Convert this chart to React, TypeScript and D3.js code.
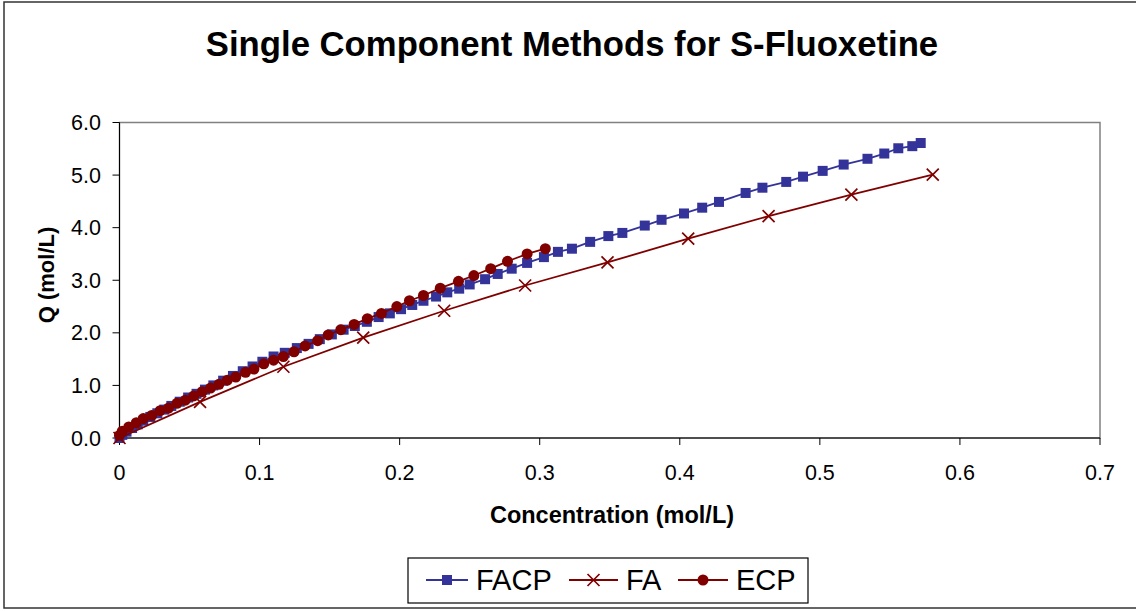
import React from "react";
import * as d3 from "d3";

const facpX = [0, 0.002, 0.005, 0.009, 0.013, 0.017, 0.022, 0.027, 0.032, 0.037, 0.043, 0.049, 0.055, 0.061, 0.067, 0.074, 0.081, 0.088, 0.095, 0.102, 0.110, 0.118, 0.1266, 0.135, 0.143, 0.1516, 0.160, 0.168, 0.1766, 0.185, 0.193, 0.201, 0.209, 0.217, 0.226, 0.234, 0.2425, 0.250, 0.261, 0.270, 0.280, 0.291, 0.303, 0.313, 0.323, 0.336, 0.349, 0.359, 0.375, 0.387, 0.403, 0.416, 0.428, 0.447, 0.459, 0.476, 0.488, 0.502, 0.517, 0.534, 0.546, 0.556, 0.566, 0.572];
const facpY = [0, 0.06, 0.12, 0.19, 0.26, 0.33, 0.40, 0.47, 0.54, 0.61, 0.69, 0.77, 0.84, 0.92, 1.00, 1.09, 1.18, 1.27, 1.36, 1.45, 1.55, 1.62, 1.71, 1.79, 1.88, 1.97, 2.06, 2.13, 2.21, 2.30, 2.37, 2.45, 2.53, 2.61, 2.69, 2.77, 2.84, 2.92, 3.02, 3.12, 3.22, 3.33, 3.44, 3.54, 3.60, 3.73, 3.84, 3.90, 4.04, 4.15, 4.27, 4.38, 4.49, 4.66, 4.76, 4.87, 4.97, 5.08, 5.20, 5.31, 5.41, 5.51, 5.55, 5.61];

const faX = [0, 0.0575, 0.117, 0.174, 0.2318, 0.2896, 0.3484, 0.406, 0.4634, 0.5225, 0.5806];
const faY = [0, 0.687, 1.355, 1.91, 2.42, 2.90, 3.34, 3.79, 4.22, 4.63, 5.01];

const ecpX = [0, 0.002, 0.0066, 0.012, 0.017, 0.023, 0.029, 0.035, 0.041, 0.047, 0.053, 0.059, 0.065, 0.071, 0.077, 0.083, 0.090, 0.096, 0.103, 0.110, 0.117, 0.1246, 0.1325, 0.1415, 0.149, 0.158, 0.1675, 0.177, 0.187, 0.198, 0.207, 0.217, 0.229, 0.242, 0.253, 0.265, 0.277, 0.291, 0.304];
const ecpY = [0.05, 0.13, 0.21, 0.29, 0.37, 0.43, 0.52, 0.57, 0.66, 0.72, 0.80, 0.88, 0.95, 1.02, 1.10, 1.16, 1.25, 1.31, 1.41, 1.48, 1.55, 1.64, 1.75, 1.85, 1.96, 2.06, 2.16, 2.27, 2.37, 2.50, 2.61, 2.71, 2.85, 2.98, 3.09, 3.22, 3.36, 3.50, 3.60];

const xTicks = [0, 0.1, 0.2, 0.3, 0.4, 0.5, 0.6, 0.7];
const xTickLabels = ["0", "0.1", "0.2", "0.3", "0.4", "0.5", "0.6", "0.7"];
const yTicks = [0, 1, 2, 3, 4, 5, 6];
const yTickLabels = ["0.0", "1.0", "2.0", "3.0", "4.0", "5.0", "6.0"];

const seriesNames = ["FACP", "FA", "ECP"];
const BLUE = "#333399";
const RED = "#800000";

const FONT = "Arial, 'Liberation Sans', sans-serif";

export default function App() {
  const left = 119.5, right = 1100, top = 122.5, bottom = 438;
  const x = d3.scaleLinear().domain([0, 0.7]).range([left, right]);
  const y = d3.scaleLinear().domain([0, 6]).range([bottom, top]);

  const zip = (xs: number[], ys: number[]) => xs.map((v, i) => [v, ys[i]] as [number, number]);
  const facp = zip(facpX, facpY);
  const fa = zip(faX, faY);
  const ecp = zip(ecpX, ecpY);
  const line = d3.line<[number, number]>().x(d => x(d[0])).y(d => y(d[1]));

  const square = (cx: number, cy: number, k: string | number) => (
    <rect key={k} x={cx - 5} y={cy - 5} width={10} height={10} fill={BLUE} />
  );
  const cross = (cx: number, cy: number, k: string | number) => (
    <path key={k} d={`M${cx - 6},${cy - 6}L${cx + 6},${cy + 6}M${cx - 6},${cy + 6}L${cx + 6},${cy - 6}`} stroke={RED} strokeWidth={1.7} fill="none" />
  );
  const circle = (cx: number, cy: number, k: string | number) => (
    <circle key={k} cx={cx} cy={cy} r={5.5} fill={RED} />
  );

  const legY = 580;
  return (
    <svg width={1136} height={611} style={{ position: "absolute", left: 0, top: 0, background: "#fff" }} fontFamily={FONT}>
      <rect x={0} y={0} width={1136} height={611} fill="#fff" />
      <rect x={4} y={2} width={1140} height={606} fill="none" stroke="#333" strokeWidth={1.5} />
      <text x={572} y={56} textAnchor="middle" fontSize={34.7} fontWeight="bold">Single Component Methods for S-Fluoxetine</text>

      {/* plot area border */}
      <rect x={left} y={top} width={right - left} height={bottom - top} fill="none" stroke="#808080" strokeWidth={1.5} />

      {/* axes */}
      <line x1={left} x2={left} y1={top} y2={bottom} stroke="#000" strokeWidth={1} />
      <line x1={left} x2={right} y1={bottom} y2={bottom} stroke="#000" strokeWidth={1.2} />
      {yTicks.map((t, i) => (
        <g key={"yt" + i}>
          <line x1={left - 7} x2={left} y1={y(t)} y2={y(t)} stroke="#000" />
          <text x={101} y={y(t) + 7.5} textAnchor="end" fontSize={21.5}>{yTickLabels[i]}</text>
        </g>
      ))}
      {xTicks.map((t, i) => (
        <g key={"xt" + i}>
          <line x1={x(t)} x2={x(t)} y1={bottom} y2={bottom + 7} stroke="#000" />
          <text x={x(t)} y={480} textAnchor="middle" fontSize={21.5}>{xTickLabels[i]}</text>
        </g>
      ))}
      <text x={612} y={523} textAnchor="middle" fontSize={23.5} fontWeight="bold">Concentration (mol/L)</text>
      <text transform="translate(54,275) rotate(-90)" textAnchor="middle" fontSize={22} fontWeight="bold">Q (mol/L)</text>

      {/* series */}
      <path d={line(facp) || ""} fill="none" stroke={BLUE} strokeWidth={1.8} />
      {facp.map((d, i) => square(x(d[0]), y(d[1]), "s" + i))}
      <path d={line(fa) || ""} fill="none" stroke={RED} strokeWidth={1.8} />
      {fa.map((d, i) => cross(x(d[0]), y(d[1]), "x" + i))}
      <path d={line(ecp) || ""} fill="none" stroke={RED} strokeWidth={1.8} />
      {ecp.map((d, i) => circle(x(d[0]), y(d[1]), "c" + i))}

      {/* legend */}
      <rect x={408} y={558} width={400} height={45} fill="#fff" stroke="#000" strokeWidth={1.2} />
      <line x1={426} x2={468} y1={legY} y2={legY} stroke={BLUE} strokeWidth={1.8} />
      {square(447, legY, "ls")}
      <text x={476} y={legY + 10} fontSize={29}>{seriesNames[0]}</text>
      <line x1={569} x2={618} y1={legY} y2={legY} stroke={RED} strokeWidth={1.8} />
      {cross(593.5, legY, "lx")}
      <text x={626} y={legY + 10} fontSize={29}>{seriesNames[1]}</text>
      <line x1={678} x2={728} y1={legY} y2={legY} stroke={RED} strokeWidth={1.8} />
      {circle(703, legY, "lc")}
      <text x={736} y={legY + 10} fontSize={29}>{seriesNames[2]}</text>
    </svg>
  );
}
